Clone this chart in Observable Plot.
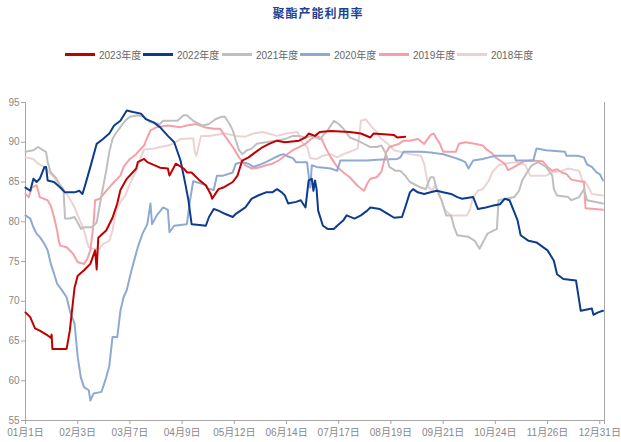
<!DOCTYPE html>
<html><head><meta charset="utf-8">
<script src="https://cdn.jsdelivr.net/npm/d3@7"></script>
<script src="https://cdn.jsdelivr.net/npm/@observablehq/plot@0.6"></script>
<style>
body{margin:0;background:#fff;}
#wrap{position:relative;width:621px;height:442px;overflow:hidden;font-family:"Liberation Sans Narrow","Liberation Sans","Noto Sans CJK SC",sans-serif;}
#title{position:absolute;left:0;width:636px;top:4px;text-align:center;font-weight:bold;font-size:12px;font-family:"Noto Sans CJK SC",sans-serif;color:#1f3f8f;letter-spacing:1px;}
.item{position:absolute;top:47px;height:14px;display:flex;align-items:center;font-size:10px;color:#666;}
.sw{width:30px;height:3px;margin-right:4px;}
#chart{position:absolute;left:0;top:0;}
</style>
</head><body>
<div id="wrap">
<div id="title">聚酯产能利用率</div>
<div id="legend"></div>
<div id="chart"></div>
</div>
<script>
const years = ["2023年度","2022年度","2021年度","2020年度","2019年度","2018年度"];
const colors = ["#c00000","#0d3c8c","#bfbfbf","#8eaad2","#f4a0a8","#ecd3d3"];
const tickDays = [0,33,66,99,132,165,198,231,264,297,330,363,366];
const tickLabels = ["01月1日","02月3日","03月7日","04月9日","05月12日","06月14日","07月17日","08月19日","09月21日","10月24日","11月26日","12月31日",""];
const yTicks = [55,60,65,70,75,80,85,90,95];

const s2023 = [[0,68.6],[3,68.0],[6,66.6],[9,66.3],[14,65.7],[16,65.4],[16.5,65.8],[17,64.0],[26,64.0],[28,66.3],[31,71.7],[33,73.2],[37,73.9],[41,74.7],[44,76.4],[45,74.0],[46,78.0],[51,78.9],[55,80.5],[58,82.3],[60,84.0],[64,85.4],[70,86.7],[71,87.5],[75,87.9],[77,87.5],[85,86.8],[90,86.7],[91,85.8],[95,87.3],[100,86.7],[102,86.2],[105,86.2],[110,85.2],[114,84.6],[117,83.5],[118,82.9],[120,83.5],[122,84.1],[125,84.3],[131,85.0],[134,85.8],[137,87.7],[141,88.1],[145,88.7],[150,89.4],[154,89.8],[159,90.2],[164,90.0],[173,90.2],[177,90.6],[179,91.1],[183,90.8],[186,91.3],[193,91.4],[205,91.3],[212,91.1],[218,90.6],[220,91.1],[233,90.9],[235,90.6],[240,90.7]];

const s2022 = [[0,84.3],[3,83.9],[5,85.4],[7,85.0],[9,85.4],[11,86.4],[12,86.9],[13,86.9],[14,85.2],[18,85.0],[22,84.3],[25,83.7],[31,83.7],[34,83.9],[36,83.5],[38,84.8],[41,86.9],[45,89.8],[49,90.4],[53,91.1],[56,92.1],[60,92.7],[64,94.0],[68,93.8],[73,93.6],[76,92.9],[81,92.5],[85,91.9],[90,90.8],[94,90.0],[98,87.7],[101,84.8],[103,82.7],[105,79.7],[110,79.6],[114,79.5],[116,80.6],[119,81.6],[122,81.4],[126,81.0],[131,80.6],[133,81.0],[139,81.8],[143,82.9],[147,83.3],[152,83.7],[156,83.7],[159,84.1],[162,83.7],[164,83.3],[166,82.3],[171,82.5],[174,82.7],[177,81.8],[179,85.2],[181,85.4],[182,83.9],[183,85.2],[184,84.1],[185,81.4],[188,79.5],[191,79.1],[195,79.1],[197,79.5],[201,80.2],[203,80.8],[208,80.4],[212,80.8],[216,81.4],[218,81.8],[224,81.6],[229,81.0],[233,80.5],[238,80.6],[240,81.8],[243,83.7],[245,84.1],[248,83.7],[252,83.5],[256,83.7],[260,83.9],[264,83.7],[269,83.5],[273,83.1],[276,82.9],[283,83.1],[286,81.6],[291,81.8],[295,82.0],[300,82.2],[303,82.9],[306,82.7],[309,81.2],[311,80.2],[313,78.3],[318,77.6],[323,77.4],[330,76.4],[334,75.1],[336,73.4],[340,72.8],[348,72.6],[351,68.8],[358,69.1],[359,68.3],[362,68.6],[365,68.8]];

const s2021 = [[0,88.8],[5,89.0],[8,89.4],[11,89.0],[13,88.8],[14,87.5],[16,86.2],[19,85.6],[22,84.6],[24,84.1],[25,80.4],[28,80.4],[31,80.6],[33,79.9],[35,79.1],[37,79.3],[42,79.3],[45,79.9],[48,83.3],[51,86.4],[53,88.8],[55,90.4],[57,91.1],[60,91.9],[63,92.7],[66,93.2],[71,93.4],[75,93.2],[79,92.5],[85,92.3],[87,92.7],[96,92.7],[100,93.4],[102,93.4],[106,92.7],[112,92.1],[116,92.3],[120,92.9],[124,93.2],[126,93.2],[129,92.3],[131,91.5],[133,90.2],[135,89.0],[137,88.5],[140,89.0],[143,89.2],[146,89.8],[152,90.0],[158,90.2],[164,90.4],[169,90.8],[173,90.8],[177,90.6],[181,90.8],[186,90.4],[191,91.5],[195,92.7],[198,92.3],[201,91.7],[205,90.6],[210,90.2],[214,89.8],[218,89.4],[222,89.4],[225,89.6],[228,88.5],[230,86.9],[234,86.4],[237,86.4],[240,85.8],[243,85.0],[250,84.3],[253,84.1],[256,85.6],[258,85.6],[260,84.1],[263,82.7],[266,80.8],[269,80.8],[271,79.3],[273,78.3],[280,78.1],[284,77.6],[287,76.6],[292,78.5],[298,79.1],[299,82.7],[309,83.1],[312,83.9],[314,85.2],[317,86.2],[320,87.1],[324,87.5],[329,86.9],[333,85.8],[334,84.1],[336,83.3],[343,83.1],[345,82.7],[350,83.1],[353,84.1],[355,82.7],[365,82.3]];

const s2020 = [[0,80.8],[3,80.4],[5,79.3],[7,78.5],[9,78.1],[12,77.2],[14,76.4],[16,74.7],[18,73.5],[20,72.2],[23,71.4],[26,70.5],[28,68.8],[31,67.2],[33,63.0],[35,60.4],[37,59.2],[40,58.8],[41,57.5],[43,58.4],[48,58.6],[51,60.4],[53,61.9],[55,65.5],[58,65.5],[60,68.8],[62,70.5],[64,71.4],[67,73.9],[71,76.8],[74,78.5],[77,79.7],[79,82.3],[80,79.7],[83,80.8],[87,81.8],[90,81.5],[91,78.7],[94,79.5],[102,79.7],[104,82.7],[106,85.1],[111,84.8],[114,84.6],[115,84.2],[119,84.0],[121,85.8],[125,85.8],[131,86.2],[133,87.3],[137,87.5],[141,87.3],[144,86.9],[147,87.1],[152,87.5],[156,87.9],[160,88.3],[163,88.5],[166,88.2],[169,88.0],[171,87.5],[178,87.5],[179,85.8],[180,84.3],[181,87.1],[184,86.9],[193,86.7],[197,86.4],[199,87.7],[216,87.7],[222,87.8],[235,87.9],[237,88.1],[239,88.8],[250,88.8],[256,88.7],[264,88.5],[272,88.0],[276,87.7],[278,87.5],[280,86.7],[283,87.7],[289,87.9],[293,88.1],[297,88.3],[309,88.3],[310,87.7],[321,87.7],[323,89.2],[329,89.0],[341,88.8],[342,88.3],[349,88.3],[353,88.1],[355,87.2],[358,86.9],[361,86.2],[363,86.0],[365,85.2]];

const s2019 = [[0,83.5],[2,83.1],[4,84.3],[7,84.6],[8,83.9],[9,83.1],[14,82.7],[16,82.0],[18,80.6],[20,78.9],[21,77.6],[22,77.0],[26,76.8],[30,76.0],[33,74.9],[37,74.7],[39,75.3],[41,76.4],[43,79.7],[44,82.7],[47,82.9],[52,84.1],[56,85.0],[60,85.8],[62,86.9],[66,87.9],[70,88.5],[72,89.0],[75,89.6],[77,90.6],[79,91.5],[83,91.9],[90,92.1],[98,91.9],[102,92.1],[108,92.3],[113,91.9],[119,91.7],[123,91.7],[126,90.8],[131,89.4],[135,88.1],[139,87.1],[143,86.7],[147,86.8],[152,87.1],[156,87.3],[160,87.7],[164,88.3],[169,89.0],[173,89.4],[177,89.8],[181,90.5],[184,90.8],[187,90.5],[190,89.2],[193,88.1],[197,86.9],[201,86.2],[205,85.6],[210,84.5],[214,83.9],[216,84.8],[218,85.4],[222,85.6],[225,86.3],[228,88.7],[230,89.4],[236,89.8],[239,90.2],[243,90.2],[248,90.4],[252,89.8],[256,90.9],[258,91.1],[260,90.4],[262,89.8],[264,88.8],[272,88.8],[274,89.8],[278,90.0],[284,89.8],[289,89.6],[292,89.0],[295,88.6],[297,88.1],[300,87.7],[303,87.3],[305,86.5],[309,86.9],[315,87.6],[319,87.7],[327,87.6],[330,86.9],[333,86.4],[336,86.6],[339,86.2],[342,86.0],[345,85.3],[353,85.0],[354,81.7],[365,81.5]];

const s2018 = [[0,88.1],[5,87.9],[8,87.3],[12,86.9],[15,86.2],[18,85.6],[20,85.0],[23,84.0],[26,83.5],[28,82.9],[31,81.8],[33,80.8],[35,79.9],[37,78.9],[39,77.4],[40,76.8],[42,76.6],[47,76.6],[49,77.2],[53,77.6],[55,78.9],[57,81.2],[60,82.5],[63,83.3],[65,84.3],[67,85.2],[70,86.4],[72,87.7],[75,89.1],[81,89.2],[85,89.4],[90,89.6],[93,89.8],[98,90.4],[106,90.5],[107,88.8],[108,88.3],[111,90.8],[116,90.8],[126,91.1],[133,90.8],[139,90.7],[144,91.1],[150,91.3],[159,90.8],[165,91.1],[172,91.3],[174,90.2],[178,89.4],[180,88.0],[184,87.9],[188,88.3],[193,88.5],[197,88.1],[201,88.5],[205,88.8],[210,89.2],[212,92.7],[215,92.9],[219,91.9],[222,91.3],[224,90.6],[229,89.8],[233,89.0],[243,88.5],[250,88.3],[252,87.3],[253,86.2],[255,84.3],[257,83.9],[259,84.6],[261,83.5],[263,82.7],[265,81.5],[269,80.8],[279,80.8],[281,81.6],[283,83.1],[286,83.9],[289,84.1],[293,85.2],[295,86.2],[299,87.1],[303,87.3],[310,87.5],[314,87.3],[316,87.1],[319,85.8],[329,85.8],[333,86.2],[339,86.4],[343,86.7],[350,86.4],[352,85.2],[354,85.0],[356,84.3],[358,83.5],[365,83.3]];

const seriesData = [s2023, s2022, s2021, s2020, s2019, s2018];

// legend
const legendLeft = [65,143,222,300,379,457];
const legend = document.getElementById("legend");
years.forEach((y,i)=>{
  const it = document.createElement("div");
  it.className = "item";
  it.style.left = legendLeft[i] + "px";
  it.innerHTML = `<span class="sw" style="background:${colors[i]}"></span><span>${y}</span>`;
  legend.appendChild(it);
});

const rows = [];
years.forEach((y,i)=>seriesData[i].forEach(([d,v])=>rows.push({year:y, day:d, value:v})));

const drawOrder = years.slice().reverse();
const chart = Plot.plot({
  width: 621, height: 442,
  marginTop: 102, marginBottom: 22, marginLeft: 25, marginRight: 17,
  x: {domain: [0,366], label: null},
  y: {domain: [55,95], label: null},
  color: {domain: years, range: colors},
  style: {fontFamily: '"Liberation Sans Narrow","Liberation Sans","Noto Sans CJK SC",sans-serif', fontSize: "10px", color: "#888", background: "transparent", overflow: "visible"},
  marks: [
    Plot.axisY({ticks: yTicks, tickSize: 4, tickPadding: 2, label: null, stroke: "#a6a6a6", fill: "#888"}),
    Plot.axisX({ticks: tickDays, tickFormat: d => tickLabels[tickDays.indexOf(d)], tickSize: 4, tickPadding: 4, label: null, stroke: "#a6a6a6", fill: "#888"}),
    Plot.ruleX([0, 366], {stroke: "#a6a6a6"}),
    Plot.ruleY([55], {stroke: "#a6a6a6"}),
    ...drawOrder.map(name => Plot.line(rows.filter(r => r.year === name), {x: "day", y: "value", stroke: "year", strokeWidth: 2}))
  ]
});
document.getElementById("chart").appendChild(chart);
</script>
</body></html>
